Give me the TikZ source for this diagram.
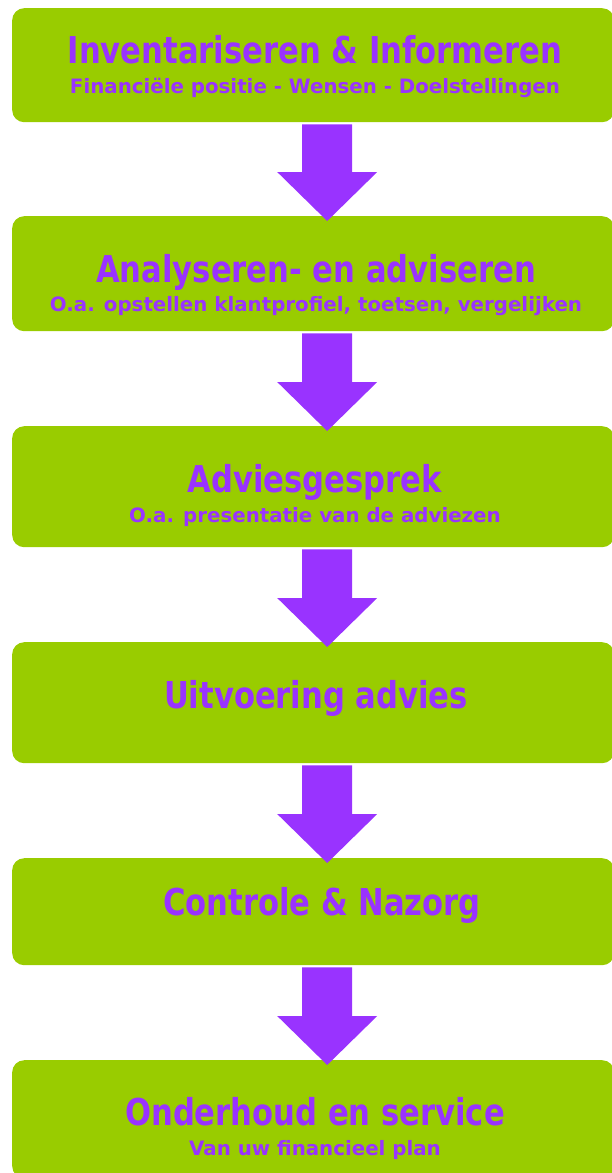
\documentclass[tikz,border=0pt]{standalone}
\usepackage{fontspec}
\setmainfont{DejaVu Sans Condensed}[BoldFont={DejaVu Sans Condensed Bold}]
\newfontfamily\steptitlefont{DejaVu Sans Condensed Bold}[FakeStretch=0.92]
\newfontfamily\stepsubfont{DejaVu Sans Bold}
\usepackage{tikz}
\usetikzlibrary{calc, positioning}
\definecolor{stepgreen}{HTML}{99CC00}
\definecolor{steppurple}{HTML}{9933FF}
\tikzset{
  stepbox/.style={rectangle, rounded corners=12pt, fill=stepgreen, minimum width=602pt, inner sep=0pt},
  steptitle/.style={anchor=base, inner sep=0pt, font=\steptitlefont\fontsize{37}{40}\selectfont, text=steppurple},
  stepsub/.style={anchor=base, inner sep=0pt, font=\stepsubfont\fontsize{19.8}{22}\selectfont, text=steppurple},
  flowarrow/.style={fill=steppurple}
}
% block arrow from the bottom of one box to the top of the next
\newcommand{\stepflow}[2]{%
  \fill[flowarrow] ($(#1.south)+(-11,2)$) -- ($(#1.south)+(39,2)$)
    -- ($(#2.north)+(39,-44)$) -- ($(#2.north)+(64,-44)$) -- ($(#2.north)+(14,5)$)
    -- ($(#2.north)+(-36,-44)$) -- ($(#2.north)+(-11,-44)$) -- cycle;}

\begin{document}
\begin{tikzpicture}[x=1pt, y=-1pt]
  \useasboundingbox (0,0) rectangle (612,1173);
  \node[stepbox, minimum height=114pt, anchor=north west] (inv) at (12,8) {};
  \node[stepbox, minimum height=115pt, anchor=north west] (ana) at (12,216) {};
  \node[stepbox, minimum height=121pt, anchor=north west] (adv) at (12,426) {};
  \node[stepbox, minimum height=121pt, anchor=north west] (uit) at (12,642) {};
  \node[stepbox, minimum height=107pt, anchor=north west] (con) at (12,858) {};
  \node[stepbox, minimum height=118pt, anchor=north west] (ond) at (12,1060) {};

  \stepflow{inv}{ana}
  \stepflow{ana}{adv}
  \stepflow{adv}{uit}
  \stepflow{uit}{con}
  \stepflow{con}{ond}

  \node[steptitle] (invT) at (315,63) {Inventariseren \& Informeren};
  \node[stepsub] (invS) at (315,93) {Financiële positie - Wensen - Doelstellingen};
  \node[steptitle] (anaT) at (316,282) {Analyseren- en adviseren};
  \node[stepsub] (anaS) at (316,311) {O.a. opstellen klantprofiel, toetsen, vergelijken};
  \node[steptitle] (advT) at (315,492) {Adviesgesprek};
  \node[stepsub] (advS) at (315,522) {O.a. presentatie van de adviezen};
  \node[steptitle] (uitT) at (316,708) {Uitvoering advies};
  \node[steptitle] (conT) at (322,915) {Controle \& Nazorg};
  \node[steptitle] (ondT) at (315,1125) {Onderhoud en service};
  \node[stepsub] (ondS) at (315,1155) {Van uw financieel plan};
\end{tikzpicture}
\end{document}
